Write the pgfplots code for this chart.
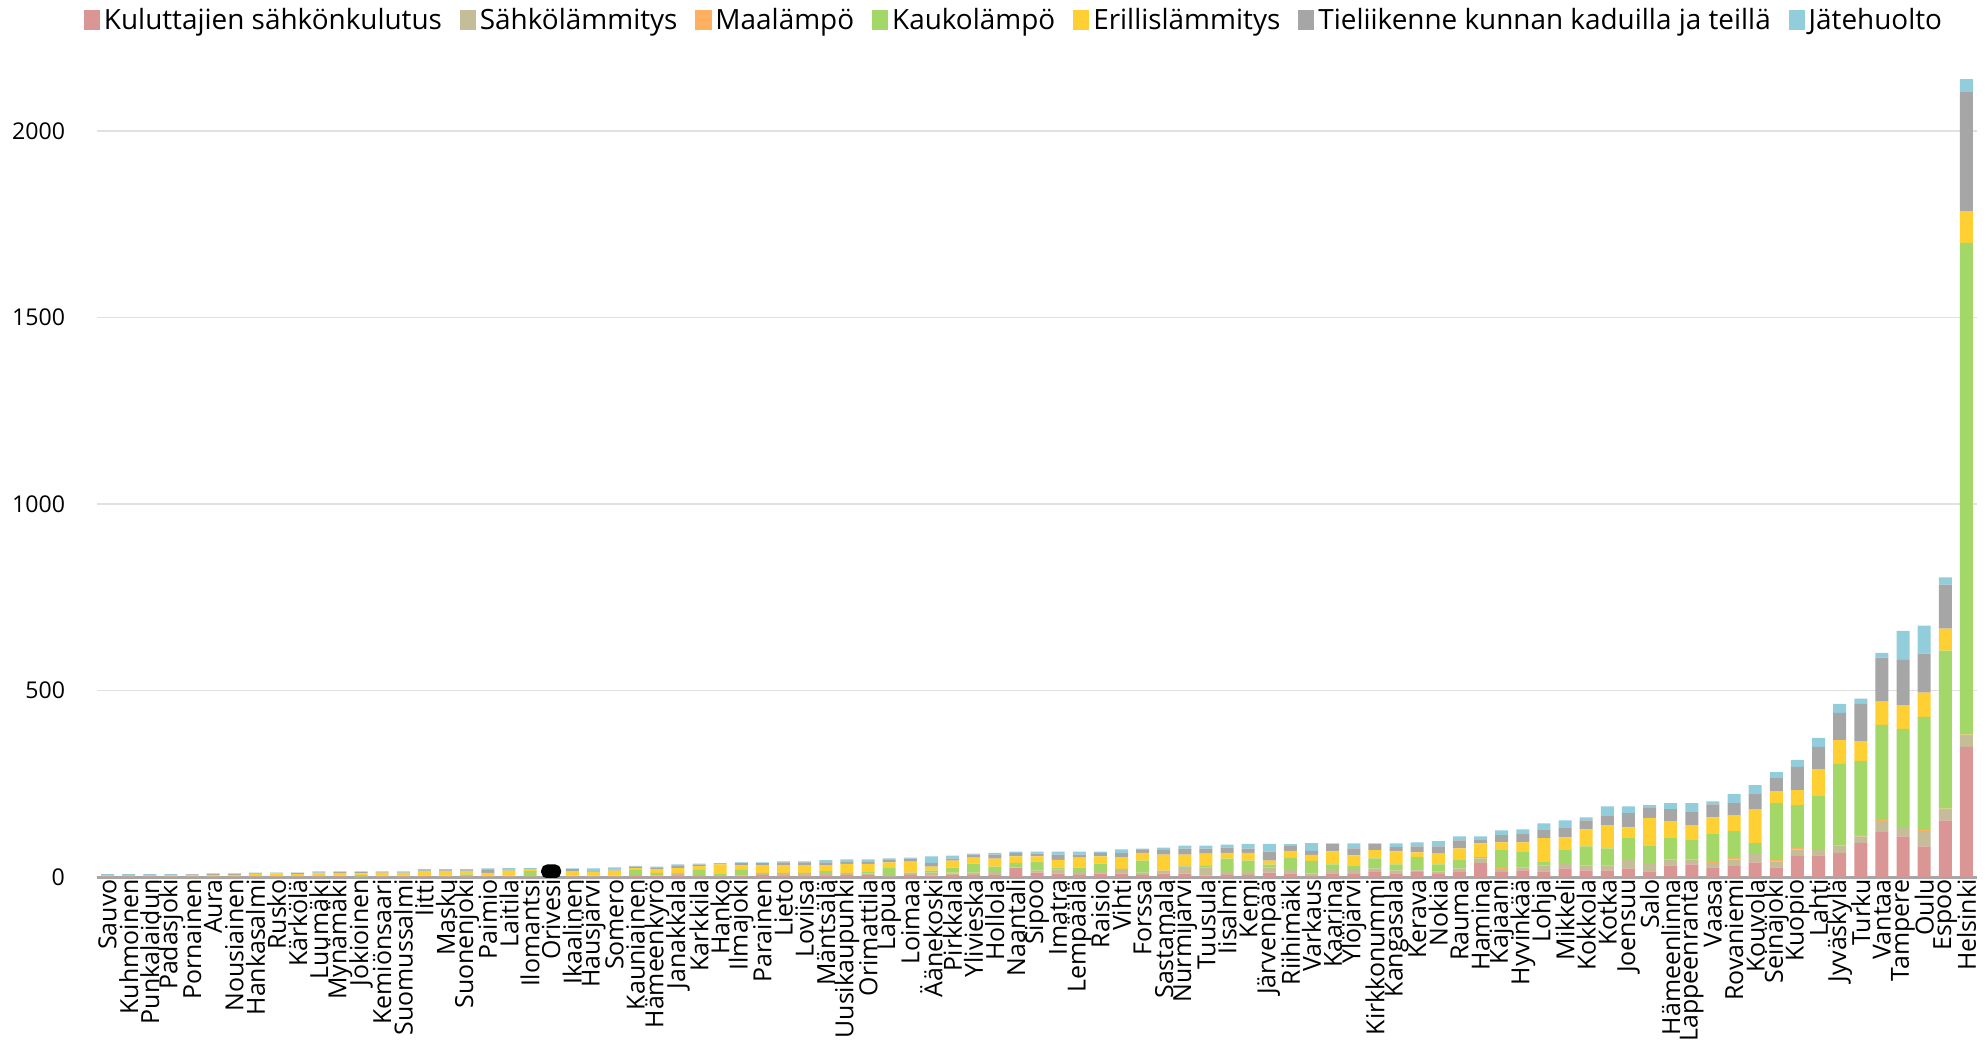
\documentclass[border=0pt]{standalone}
\usepackage{fontspec}
\setmainfont{Open Sans}
\usepackage{pgfplots}
\usepackage{pgfplotstable}
\pgfplotsset{compat=1.18}
\definecolor{cRed}{RGB}{217,150,148}
\definecolor{cTan}{RGB}{196,189,151}
\definecolor{cOra}{RGB}{255,176,96}
\definecolor{cGre}{RGB}{163,215,104}
\definecolor{cYel}{RGB}{255,208,51}
\definecolor{cGra}{RGB}{166,166,166}
\definecolor{cBlu}{RGB}{146,205,220}
\definecolor{gridc}{RGB}{225,225,225}
\pgfplotstableread{
x r t o g y gr b h
0 1 2 0 0 1 2 2 0
1 1 3 0 0 0 2 2 0
2 1 2 0 0 1 2 2 0
3 1 1 0 0 3 1 2 0
4 1 1 0 0 3 2 1 0
5 1 1 0 0 4 2 2 0
6 1 1 0 0 4 2 2 0
7 1 2 0 0 5 2 2 0
8 1 1 0 0 8 1 1 0
9 1 2 0 0 5 3 1 0
10 1 2 0 0 7 2 3 0
11 2 2 0 0 7 2 2 0
12 0 1 0 4 5 3 2 0
13 1 3 0 0 8 1 2 0
14 1 3 0 0 7 1 3 0
15 2 2 0 0 12 2 3 0
16 1 3 0 0 12 2 3 0
17 1 2 0 4 9 2 3 0
18 1 3 0 0 7 8 4 0
19 1 3 0 0 13 3 4 0
20 1 1 0 14 5 1 2 0
21 0 0 0 0 0 0 0 30
22 1 3 0 0 12 5 2 0
23 1 3 0 0 9 2 8 0
24 1 3 0 0 13 3 6 0
25 3 0 0 16 5 4 2 0
26 3 1 0 7 10 3 4 0
27 3 5 3 0 13 5 5 0
28 2 0 0 17 10 4 3 0
29 1 4 0 3 26 1 2 0
30 3 1 0 15 13 6 1 0
31 5 6 0 0 21 5 2 0
32 3 8 0 0 21 7 3 0
33 2 9 0 0 21 7 3 0
34 3 8 0 5 16 7 6 0
35 5 6 0 0 24 7 5 0
36 5 5 0 3 22 7 5 0
37 1 5 0 18 15 8 3 0
38 5 7 0 0 29 8 3 0
39 4 8 0 5 11 10 17 0
40 5 4 3 13 19 5 8 0
41 5 7 0 24 16 8 3 0
42 5 9 0 14 21 11 5 0
43 24 1 0 13 17 10 3 0
44 12 5 0 24 14 8 5 0
45 9 11 0 5 21 14 8 0
46 6 8 0 11 27 8 8 0
47 9 5 0 22 19 10 3 0
48 9 12 0 1 31 11 10 0
49 6 6 0 32 21 8 3 0
50 9 8 0 0 43 13 6 0
51 9 19 0 2 30 16 8 0
52 4 21 0 5 33 13 8 0
53 6 8 0 35 16 14 8 0
54 6 8 0 30 21 11 13 0
55 12 13 0 8 11 24 21 0
56 10 9 0 32 19 13 5 0
57 2 8 0 33 16 11 21 0
58 10 9 2 13 35 19 2 0
59 8 11 0 12 27 19 13 0
60 13 10 0 27 22 16 2 0
61 10 8 0 16 35 11 10 0
62 13 5 0 35 13 16 11 0
63 8 7 0 19 29 19 14 0
64 13 10 0 22 32 21 11 0
65 37 13 0 3 37 11 8 0
66 13 8 3 48 21 19 13 0
67 18 8 0 43 24 24 11 0
68 15 16 0 11 62 24 16 0
69 23 14 0 37 32 27 19 0
70 18 13 0 51 46 24 8 0
71 18 13 0 46 62 24 26 0
72 23 22 0 61 27 38 18 0
73 15 20 0 50 73 27 8 0
74 31 16 0 57 46 32 16 0
75 34 13 0 52 40 35 24 0
76 26 12 2 77 43 35 8 0
77 29 18 4 72 43 32 24 0
78 39 23 0 29 91 40 24 0
79 26 16 4 152 32 35 16 0
80 56 18 4 115 40 62 19 0
81 58 14 0 145 72 60 24 0
82 64 21 0 218 64 73 24 0
83 91 18 3 199 53 100 14 0
84 120 30 3 255 62 118 13 0
85 109 23 0 265 64 121 78 0
86 82 41 3 303 65 105 75 0
87 152 27 4 424 59 118 19 0
88 349 29 4 1318 85 319 35 0
}\data
\begin{document}
\begin{tikzpicture}
\begin{axis}[
  scale only axis, width=940bp, height=401bp,
  ybar stacked, bar width=6.5bp,
  xmin=-0.5, xmax=88.5, ymin=0, ymax=2150,
  xtick={0,...,88},
  xticklabels={Sauvo,Kuhmoinen,Punkalaidun,Padasjoki,Pornainen,Aura,Nousiainen,Hankasalmi,Rusko,Kärkölä,Luumäki,Mynämäki,Jokioinen,Kemiönsaari,Suomussalmi,Iitti,Masku,Suonenjoki,Paimio,Laitila,Ilomantsi,Orivesi,Ikaalinen,Hausjärvi,Somero,Kauniainen,Hämeenkyrö,Janakkala,Karkkila,Hanko,Ilmajoki,Parainen,Lieto,Loviisa,Mäntsälä,Uusikaupunki,Orimattila,Lapua,Loimaa,Äänekoski,Pirkkala,Ylivieska,Hollola,Naantali,Sipoo,Imatra,Lempäälä,Raisio,Vihti,Forssa,Sastamala,Nurmijärvi,Tuusula,Iisalmi,Kemi,Järvenpää,Riihimäki,Varkaus,Kaarina,Ylöjärvi,Kirkkonummi,Kangasala,Kerava,Nokia,Rauma,Hamina,Kajaani,Hyvinkää,Lohja,Mikkeli,Kokkola,Kotka,Joensuu,Salo,Hämeenlinna,Lappeenranta,Vaasa,Rovaniemi,Kouvola,Seinäjoki,Kuopio,Lahti,Jyväskylä,Turku,Vantaa,Tampere,Oulu,Espoo,Helsinki},
  xticklabel style={rotate=90, anchor=east, font=\fontsize{12.5}{13}\selectfont, inner sep=1bp},
  ytick={0,500,1000,1500,2000},
  yticklabel style={font=\fontsize{11.6}{12}\selectfont, xshift=-12.5bp},
  /pgf/number format/assume math mode=true,
  /pgf/number format/1000 sep={},
  tick style={draw=none},
  axis lines*=left,
  y axis line style={draw=none},
  x axis line style={draw=cGra, line width=1.5bp},
  ymajorgrids, grid style={draw=gridc, line width=0.8bp},
  legend columns=-1,
  legend style={at={(0.4883,1.0686)}, anchor=center, draw=none, fill=none,
    font=\fontsize{14}{15}\selectfont,
    /tikz/every even column/.append style={column sep=7bp}},
  legend image code/.code={\fill[#1] (0bp,-5bp) rectangle (8bp,5bp);},
]
\addplot[fill=cRed, draw=none] table[x=x,y=r]{\data};
\addplot[fill=cTan, draw=none] table[x=x,y=t]{\data};
\addplot[fill=cOra, draw=none] table[x=x,y=o]{\data};
\addplot[fill=cGre, draw=none] table[x=x,y=g]{\data};
\addplot[fill=cYel, draw=none] table[x=x,y=y]{\data};
\addplot[fill=cGra, draw=none] table[x=x,y=gr]{\data};
\addplot[fill=cBlu, draw=none] table[x=x,y=b]{\data};
\addplot[fill=black, draw=black, line width=1.5bp, rounded corners=2.5bp, bar width=8.5bp, forget plot] table[x=x,y=h]{\data};
\legend{Kuluttajien sähkönkulutus,Sähkölämmitys,Maalämpö,Kaukolämpö,Erillislämmitys,Tieliikenne kunnan kaduilla ja teillä,Jätehuolto}
\coordinate (bl) at (rel axis cs:0,0);
\end{axis}
\pgfresetboundingbox
\path[use as bounding box] ([shift={(-48.5bp,-81.5bp)}]bl) rectangle ([shift={(944.5bp,438.5bp)}]bl);
\end{tikzpicture}
\end{document}
